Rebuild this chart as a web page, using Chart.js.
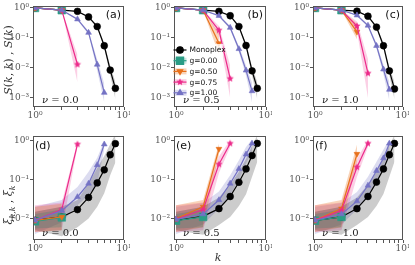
<!DOCTYPE html>
<html>
<head>
<meta charset="utf-8">
<script src="https://cdn.jsdelivr.net/npm/chart.js"></script>
<style>
  body { margin: 0; background: #fff; width: 415px; height: 265px; overflow: hidden; position: relative; }
  .pane { position: absolute; }
  canvas { display: block; }
</style>
</head>
<body>
<div class="pane" style="left:0px;top:0px"><canvas id="pa" width="130" height="118"></canvas></div>
<div class="pane" style="left:141px;top:0px"><canvas id="pb" width="131" height="118"></canvas></div>
<div class="pane" style="left:280px;top:0px"><canvas id="pc" width="129" height="118"></canvas></div>
<div class="pane" style="left:0px;top:130px"><canvas id="pd" width="130" height="135"></canvas></div>
<div class="pane" style="left:141px;top:130px"><canvas id="pe" width="131" height="135"></canvas></div>
<div class="pane" style="left:280px;top:130px"><canvas id="pf" width="129" height="135"></canvas></div>
<script>
// k values and ticks
const kValues = [1, 2, 3, 4, 5, 6, 7, 8];
const xTicks = [1, 2, 3, 4, 5, 6, 7, 8, 9, 10];
const yTicksTop = [0.001, 0.01, 0.1, 1];
const yTicksBottom = [0.01, 0.1, 1];
const seriesNames = ['Monoplex', 'g=0.00', 'g=0.50', 'g=0.75', 'g=1.00'];

// S(k,k), S(k)  --  nu = 0.0
const sA_mono = [1, 0.84, 0.77, 0.5, 0.24, 0.055, 0.0085, 0.0021];
const sA_mono_lo = [1, 0.84, 0.75, 0.47, 0.21, 0.044, 0.0058, 0.0009];
const sA_mono_hi = [1, 0.84, 0.79, 0.53, 0.27, 0.066, 0.012, 0.0034];
const sA_g000 = [1, 0.84];
const sA_g050 = [1, 0.84];
const sA_g075 = [1, 0.84, 0.013];
const sA_g075_lo = [1, 0.83, 0.0033];
const sA_g075_hi = [1, 0.85, 0.028];
const sA_g100 = [1, 0.84, 0.42, 0.15, 0.013, 0.0015];
const sA_g100_lo = [1, 0.83, 0.39, 0.13, 0.008, 0.0007];
const sA_g100_hi = [1, 0.85, 0.45, 0.17, 0.019, 0.003];

// nu = 0.5
const sB_mono = [1, 0.84, 0.77, 0.55, 0.24, 0.056, 0.008, 0.0021];
const sB_mono_lo = [1, 0.84, 0.75, 0.52, 0.21, 0.045, 0.0055, 0.0009];
const sB_mono_hi = [1, 0.84, 0.79, 0.58, 0.27, 0.067, 0.011, 0.0034];
const sB_g000 = [1, 0.84];
const sB_g050 = [1, 0.84, 0.066];
const sB_g050_lo = [1, 0.82, 0.028];
const sB_g050_hi = [1, 0.86, 0.14];
const sB_g075 = [1, 0.84, 0.18, 0.0044];
const sB_g075_lo = [1, 0.83, 0.12, 0.001];
const sB_g075_hi = [1, 0.85, 0.25, 0.012];
const sB_g100 = [1, 0.84, 0.55, 0.22, 0.043, 0.0083, 0.0017];
const sB_g100_lo = [1, 0.83, 0.52, 0.19, 0.034, 0.0055, 0.0007];
const sB_g100_hi = [1, 0.85, 0.58, 0.25, 0.053, 0.012, 0.0032];

// nu = 1.0
const sC_mono = [1, 0.84, 0.78, 0.53, 0.23, 0.055, 0.008, 0.002];
const sC_mono_lo = [1, 0.84, 0.76, 0.5, 0.2, 0.044, 0.0055, 0.0009];
const sC_mono_hi = [1, 0.84, 0.8, 0.56, 0.26, 0.066, 0.011, 0.0034];
const sC_g000 = [1, 0.84];
const sC_g050 = [1, 0.84, 0.16];
const sC_g050_lo = [1, 0.82, 0.09];
const sC_g050_hi = [1, 0.86, 0.3];
const sC_g075 = [1, 0.84, 0.25, 0.0066];
const sC_g075_lo = [1, 0.83, 0.17, 0.001];
const sC_g075_hi = [1, 0.85, 0.35, 0.02];
const sC_g100 = [1, 0.84, 0.57, 0.26, 0.055, 0.009, 0.0019];
const sC_g100_lo = [1, 0.83, 0.54, 0.23, 0.045, 0.006, 0.0008];
const sC_g100_hi = [1, 0.85, 0.6, 0.29, 0.066, 0.013, 0.0035];

// xi_{k,k}, xi_k  --  nu = 0.0
const xD_mono = [0.009, 0.011, 0.017, 0.035, 0.083, 0.18, 0.44, 0.85];
const xD_mono_lo = [0.005, 0.0035, 0.006, 0.01, 0.02, 0.045, 0.13, 0.28];
const xD_mono_hi = [0.015, 0.02, 0.03, 0.08, 0.2, 0.41, 0.82, 1.5];
const xD_g000 = [0.0085, 0.0107];
const xD_g000_lo = [0.0055, 0.006];
const xD_g000_hi = [0.013, 0.017];
const xD_g050 = [0.009, 0.011];
const xD_g050_lo = [0.0045, 0.005];
const xD_g050_hi = [0.02, 0.024];
const xD_g075 = [0.009, 0.017, 0.82];
const xD_g075_lo = [0.0045, 0.005, 0.7];
const xD_g075_hi = [0.022, 0.026, 0.95];
const xD_g100 = [0.009, 0.016, 0.036, 0.08, 0.24, 0.82];
const xD_g100_lo = [0.004, 0.008, 0.022, 0.04, 0.08, 0.6];
const xD_g100_hi = [0.02, 0.03, 0.065, 0.16, 0.37, 1.0];

// nu = 0.5
const xE_mono = [0.009, 0.0114, 0.018, 0.037, 0.086, 0.19, 0.42, 0.86];
const xE_mono_lo = [0.005, 0.0038, 0.0068, 0.011, 0.021, 0.042, 0.12, 0.29];
const xE_mono_hi = [0.015, 0.02, 0.035, 0.075, 0.16, 0.35, 0.75, 1.4];
const xE_g000 = [0.0088, 0.011];
const xE_g000_lo = [0.0055, 0.006];
const xE_g000_hi = [0.013, 0.017];
const xE_g050 = [0.01, 0.02, 0.62];
const xE_g050_lo = [0.0045, 0.006, 0.45];
const xE_g050_hi = [0.022, 0.03, 0.85];
const xE_g075 = [0.0096, 0.017, 0.25, 0.86];
const xE_g075_lo = [0.0045, 0.005, 0.15, 0.7];
const xE_g075_hi = [0.022, 0.026, 0.4, 1.05];
const xE_g100 = [0.0095, 0.013, 0.03, 0.08, 0.19, 0.45, 0.86];
const xE_g100_lo = [0.004, 0.007, 0.018, 0.04, 0.1, 0.26, 0.56];
const xE_g100_hi = [0.02, 0.025, 0.05, 0.13, 0.32, 0.7, 1.1];

// nu = 1.0
const xF_mono = [0.009, 0.011, 0.018, 0.037, 0.087, 0.19, 0.44, 0.86];
const xF_mono_lo = [0.005, 0.0038, 0.0068, 0.011, 0.021, 0.043, 0.12, 0.29];
const xF_mono_hi = [0.015, 0.02, 0.035, 0.075, 0.16, 0.36, 0.78, 1.4];
const xF_g000 = [0.0088, 0.011];
const xF_g000_lo = [0.0055, 0.006];
const xF_g000_hi = [0.013, 0.017];
const xF_g050 = [0.009, 0.018, 0.46];
const xF_g050_lo = [0.0045, 0.006, 0.3];
const xF_g050_hi = [0.022, 0.03, 0.8];
const xF_g075 = [0.009, 0.016, 0.21, 0.86];
const xF_g075_lo = [0.0045, 0.005, 0.12, 0.7];
const xF_g075_hi = [0.022, 0.026, 0.35, 1.05];
const xF_g100 = [0.009, 0.013, 0.028, 0.071, 0.17, 0.36, 0.86];
const xF_g100_lo = [0.004, 0.007, 0.017, 0.038, 0.09, 0.22, 0.56];
const xF_g100_hi = [0.02, 0.025, 0.048, 0.12, 0.29, 0.6, 1.1];

// little filled star for g=0.75
function starImage(color, r) {
    const c = document.createElement('canvas');
    c.width = c.height = Math.ceil(2 * r + 2);
    const g = c.getContext('2d');
    const cx = c.width / 2, cy = c.height / 2;
    g.beginPath();
    for (let i = 0; i < 10; i++) {
        const rr = i % 2 ? r * 0.45 : r;
        const a = -Math.PI / 2 + i * Math.PI / 5;
        g.lineTo(cx + rr * Math.cos(a), cy + rr * Math.sin(a));
    }
    g.closePath();
    g.fillStyle = color;
    g.fill();
    return c;
}

const styles = [
    { color: '#000000', band: 'rgba(0,0,0,0.2)', pointStyle: 'circle', radius: 3.4, rotation: 0 },
    { color: '#2a9d86', band: 'rgba(42,157,134,0.25)', pointStyle: 'rect', radius: 5.4, rotation: 0 },
    { color: '#e8711c', band: 'rgba(232,113,28,0.3)', pointStyle: 'triangle', radius: 3.3, rotation: 180 },
    { color: '#ec2a8a', band: 'rgba(236,42,138,0.22)', pointStyle: starImage('#ec2a8a', 3.8), radius: 4, rotation: 0 },
    { color: '#7472c4', band: 'rgba(116,114,196,0.25)', pointStyle: 'triangle', radius: 3.3, rotation: 0 }
];

const SUP = { '-': '\u207B', '0': '\u2070', '1': '\u00B9', '2': '\u00B2', '3': '\u00B3' };
const tickLabel = (value) => {
    const e = Math.log10(value);
    if (Math.abs(e - Math.round(e)) > 1e-6) return '';
    return '10' + String(Math.round(e)).split('').map(c => SUP[c]).join('');
};

const pts = (arr) => arr.map((v, i) => ({ x: kValues[i], y: v })).filter(p => p.y != null);

// text made of normal and subscript runs
function drawRuns(ctx, runs, cx, cy, rotate, size) {
    ctx.save();
    ctx.translate(cx, cy);
    if (rotate) ctx.rotate(-Math.PI / 2);
    ctx.textBaseline = 'alphabetic';
    ctx.fillStyle = '#333';
    const fontOf = (r) => (r.it ? 'italic ' : '') + (r.sub ? size * 0.7 : size) + 'px "DejaVu Serif"';
    let w = 0;
    runs.forEach(r => { ctx.font = fontOf(r); w += ctx.measureText(r.t).width; });
    let x = -w / 2;
    runs.forEach(r => {
        ctx.font = fontOf(r);
        ctx.fillText(r.t, x, size * 0.35 + (r.sub ? size * 0.25 : 0));
        x += ctx.measureText(r.t).width;
    });
    ctx.restore();
}

function decorPlugin(cfg) {
    return {
        id: 'decor',
        beforeDatasetsDraw(chart) {
            const { ctx, chartArea: a } = chart;
            ctx.save();
            ctx.fillStyle = '#222';
            ctx.textBaseline = 'middle';
            let x = a.left + 9;
            const y = a.bottom - 7;
            ctx.font = 'italic 10px "DejaVu Serif"';
            ctx.fillText('\u03BD', x, y);
            x += ctx.measureText('\u03BD').width;
            ctx.font = '10px "DejaVu Serif"';
            ctx.fillText(' = ' + cfg.nu, x, y);
            ctx.restore();
        },
        afterDraw(chart) {
            const { ctx, chartArea: a } = chart;
            ctx.save();
            ctx.strokeStyle = '#555';
            ctx.lineWidth = 1;
            ctx.strokeRect(Math.round(a.left) + 0.5, Math.round(a.top) + 0.5,
                Math.round(a.right - a.left) - 1, Math.round(a.bottom - a.top) - 1);

            ctx.fillStyle = '#111';
            ctx.font = '11px "DejaVu Sans"';
            ctx.textBaseline = 'middle';
            if (cfg.row === 0) {
                ctx.textAlign = 'right';
                ctx.fillText(cfg.letter, a.right - 3, a.top + 9);
            } else {
                ctx.textAlign = 'left';
                ctx.fillText(cfg.letter, a.left + 2, a.top + 10);
            }
            ctx.textAlign = 'left';

            if (cfg.yTitle) drawRuns(ctx, cfg.yTitle, 8, cfg.yTitleY, true, 11);
            if (cfg.xTitle) drawRuns(ctx, cfg.xTitle, (a.left + a.right) / 2 - 2, 127, false, 11);

            if (cfg.legend) {
                const x0 = a.left - 0.5;
                ctx.fillStyle = 'rgba(255,255,255,0.8)';
                ctx.fillRect(a.left + 1, a.top + 38, 48, 52);
                seriesNames.forEach((name, i) => {
                    const st = styles[i];
                    const y = a.top + 44 + i * 10.7;
                    if (i > 0) {
                        ctx.fillStyle = st.band;
                        ctx.fillRect(x0, y - 3, 13, 6);
                    }
                    ctx.strokeStyle = st.color;
                    ctx.lineWidth = 1.2;
                    ctx.beginPath();
                    ctx.moveTo(x0, y);
                    ctx.lineTo(x0 + 13, y);
                    ctx.stroke();
                    ctx.fillStyle = st.color;
                    Chart.helpers.drawPoint(ctx, {
                        pointStyle: st.pointStyle, radius: st.radius * 0.95,
                        rotation: st.rotation, borderWidth: 0.6
                    }, x0 + 6.5, y);
                    ctx.fillStyle = '#111';
                    ctx.font = '7.5px "DejaVu Sans"';
                    ctx.textBaseline = 'middle';
                    ctx.fillText(name, x0 + 16, y + 0.5);
                });
            }
            ctx.restore();
        }
    };
}

function makePanel(id, cfg) {
    const datasets = [];
    cfg.series.forEach((s, i) => {
        const st = styles[i];
        if (s[1]) {
            datasets.push({ data: pts(s[1]), borderWidth: 0, pointRadius: 0, fill: false, order: 10 });
            datasets.push({ data: pts(s[2]), borderWidth: 0, pointRadius: 0, fill: '-1', backgroundColor: st.band, order: 10 });
        }
        datasets.push({
            label: seriesNames[i],
            data: pts(s[0]),
            borderColor: st.color,
            backgroundColor: st.color,
            borderWidth: 1.2,
            pointStyle: st.pointStyle,
            pointRadius: st.radius,
            pointRotation: st.rotation,
            pointBackgroundColor: st.color,
            pointBorderColor: st.color,
            pointBorderWidth: 0.6,
            fill: false,
            order: 5 - i
        });
    });

    const top = cfg.row === 0;
    const tickFont = { family: 'DejaVu Serif', size: 9 };
    new Chart(document.getElementById(id), {
        type: 'line',
        data: { datasets },
        options: {
            responsive: false,
            animation: false,
            devicePixelRatio: 1,
            layout: { padding: { top: 5, right: 4, left: 0, bottom: 0 } },
            plugins: { legend: { display: false }, tooltip: { enabled: false } },
            scales: {
                x: {
                    type: 'logarithmic',
                    min: 0.95,
                    max: 10,
                    afterBuildTicks: (s) => { s.ticks = xTicks.map(v => ({ value: v })); },
                    afterFit: (s) => { s.height = top ? 11 : 25; s.paddingLeft = 0; s.paddingRight = 0; },
                    grid: { drawOnChartArea: false, tickLength: 3, tickColor: '#555' },
                    border: { display: false },
                    ticks: { autoSkip: false, maxRotation: 0, padding: 0, color: '#555', font: tickFont, callback: tickLabel }
                },
                y: {
                    type: 'logarithmic',
                    min: top ? 0.0005 : 0.0028,
                    max: top ? 1.16 : 1.34,
                    afterBuildTicks: (s) => { s.ticks = (top ? yTicksTop : yTicksBottom).map(v => ({ value: v })); },
                    afterFit: (s) => { s.width = 33; s.paddingTop = 0; s.paddingBottom = 0; },
                    grid: { drawOnChartArea: false, tickLength: 3, tickColor: '#555' },
                    border: { display: false },
                    ticks: { autoSkip: false, padding: 1, color: '#555', font: tickFont, callback: tickLabel }
                }
            }
        },
        plugins: [decorPlugin(cfg)]
    });
}

const sTitle = [
    { t: 'S', it: true }, { t: '(' }, { t: 'k', it: true }, { t: ', ' }, { t: 'k', it: true }, { t: ') , ' },
    { t: 'S', it: true }, { t: '(' }, { t: 'k', it: true }, { t: ')' }
];
const xiTitle = [
    { t: '\u03BE', it: true }, { t: 'k,k', it: true, sub: true }, { t: ' , ' },
    { t: '\u03BE', it: true }, { t: 'k', it: true, sub: true }
];

makePanel('pa', { row: 0, letter: '(a)', nu: '0.0', yTitle: sTitle, yTitleY: 60,
    series: [[sA_mono, sA_mono_lo, sA_mono_hi], [sA_g000], [sA_g050], [sA_g075, sA_g075_lo, sA_g075_hi], [sA_g100, sA_g100_lo, sA_g100_hi]] });
makePanel('pb', { row: 0, letter: '(b)', nu: '0.5', legend: true,
    series: [[sB_mono, sB_mono_lo, sB_mono_hi], [sB_g000], [sB_g050, sB_g050_lo, sB_g050_hi], [sB_g075, sB_g075_lo, sB_g075_hi], [sB_g100, sB_g100_lo, sB_g100_hi]] });
makePanel('pc', { row: 0, letter: '(c)', nu: '1.0',
    series: [[sC_mono, sC_mono_lo, sC_mono_hi], [sC_g000], [sC_g050, sC_g050_lo, sC_g050_hi], [sC_g075, sC_g075_lo, sC_g075_hi], [sC_g100, sC_g100_lo, sC_g100_hi]] });
makePanel('pd', { row: 1, letter: '(d)', nu: '0.0', yTitle: xiTitle, yTitleY: 75,
    series: [[xD_mono, xD_mono_lo, xD_mono_hi], [xD_g000, xD_g000_lo, xD_g000_hi], [xD_g050, xD_g050_lo, xD_g050_hi], [xD_g075, xD_g075_lo, xD_g075_hi], [xD_g100, xD_g100_lo, xD_g100_hi]] });
makePanel('pe', { row: 1, letter: '(e)', nu: '0.5', xTitle: [{ t: 'k', it: true }],
    series: [[xE_mono, xE_mono_lo, xE_mono_hi], [xE_g000, xE_g000_lo, xE_g000_hi], [xE_g050, xE_g050_lo, xE_g050_hi], [xE_g075, xE_g075_lo, xE_g075_hi], [xE_g100, xE_g100_lo, xE_g100_hi]] });
makePanel('pf', { row: 1, letter: '(f)', nu: '1.0',
    series: [[xF_mono, xF_mono_lo, xF_mono_hi], [xF_g000, xF_g000_lo, xF_g000_hi], [xF_g050, xF_g050_lo, xF_g050_hi], [xF_g075, xF_g075_lo, xF_g075_hi], [xF_g100, xF_g100_lo, xF_g100_hi]] });
</script>
</body>
</html>
